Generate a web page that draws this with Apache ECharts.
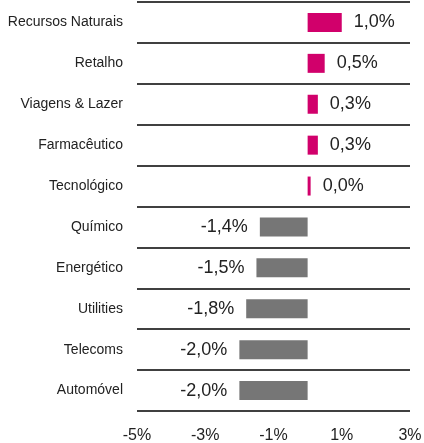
<!DOCTYPE html>
<html><head><meta charset="utf-8">
<script src="https://cdn.jsdelivr.net/npm/echarts@6/dist/echarts.min.js"></script>
<style>html,body{margin:0;padding:0;background:#fff}#c{width:424px;height:443px}</style>
</head><body><div id="c"></div>
<script>
var categories = ["Recursos Naturais","Retalho","Viagens & Lazer","Farmacêutico","Tecnológico","Químico","Energético","Utilities","Telecoms","Automóvel"];
var values = [1.0, 0.5, 0.3, 0.3, 0.0, -1.4, -1.5, -1.8, -2.0, -2.0];
var tickValues = [-5, -3, -1, 1, 3];

var FONT = '"Liberation Sans",Arial,sans-serif';
var chart = echarts.init(document.getElementById('c'));
chart.setOption({
  animation: false,
  grid: {left: 137, right: 14, top: 2, bottom: 32, outerBoundsMode: 'none', containLabel: false},
  xAxis: {
    type: 'value', min: tickValues[0], max: tickValues[tickValues.length-1], interval: 2,
    axisLine: {show: false}, axisTick: {show: false}, splitLine: {show: false},
    axisLabel: {formatter: function(v){return v + '%';}, fontFamily: FONT, fontSize: 16, color: '#222', margin: 17}
  },
  yAxis: {
    type: 'category', inverse: true, data: categories,
    axisLine: {show: false}, axisTick: {show: false},
    splitLine: {show: true, lineStyle: {color: '#000', width: 1.5}},
    axisLabel: {fontFamily: FONT, fontSize: 14, color: '#222', margin: 14}
  },
  series: [{
    type: 'bar', barWidth: 19, barMinHeight: 3,
    data: values.map(function(v){
      return {value: v,
        itemStyle: {color: v >= 0 ? '#D1006B' : '#767676'},
        label: {position: v >= 0 ? 'right' : 'left'}};
    }),
    label: {show: true, distance: 12, fontFamily: FONT, fontSize: 18, color: '#222',
      formatter: function(p){return p.value.toFixed(1).replace('.', ',') + '%';}}
  }]
});
</script></body></html>
